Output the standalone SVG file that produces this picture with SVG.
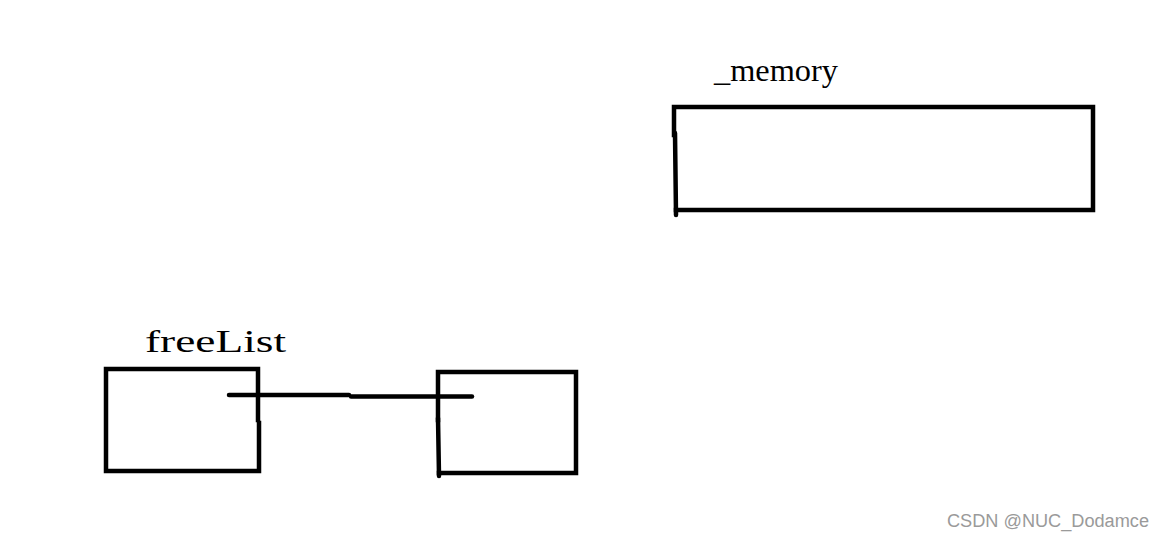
<svg xmlns="http://www.w3.org/2000/svg" width="1164" height="538" viewBox="0 0 1164 538">
<style>
.box{fill:none;stroke:#000;stroke-width:4.5;stroke-linecap:square;stroke-linejoin:miter}
.ln{fill:none;stroke:#000;stroke-width:4.5;stroke-linecap:round}
.lbl{font-family:"Liberation Serif","Noto Sans CJK SC",serif;font-size:32px;fill:#000}
.wm{font-family:"Liberation Sans",Arial,sans-serif;font-size:18px;fill:#9a9a9a}
</style>
<rect width="1164" height="538" fill="#fff"/>
<g id="memory">
<text class="lbl" x="714" y="81" textLength="124" lengthAdjust="spacingAndGlyphs">_memory</text>
<path class="box" d="M674 135 L674 107 L1093 107 L1093 210 L676 210"/>
<path class="ln" d="M675 133 L676 215"/>
</g>
<g id="freeList">
<text class="lbl" x="145" y="352" textLength="141" lengthAdjust="spacingAndGlyphs">freeList</text>
<path class="box" d="M258 420 L258 369 L106 369 L106 471 L259 471 L259 423"/>
</g>
<g id="node2">
<path class="box" d="M438 420 L438 372 L576 372 L576 473 L439 473"/>
<path class="ln" d="M438 418 L439 476"/>
</g>
<g id="connectors">
<path class="ln" d="M229 395 L349 395"/>
<path class="ln" d="M351 396.5 L472 396.5"/>
</g>
<text class="wm" x="947" y="527" textLength="202" lengthAdjust="spacingAndGlyphs">CSDN @NUC_Dodamce</text>
</svg>
